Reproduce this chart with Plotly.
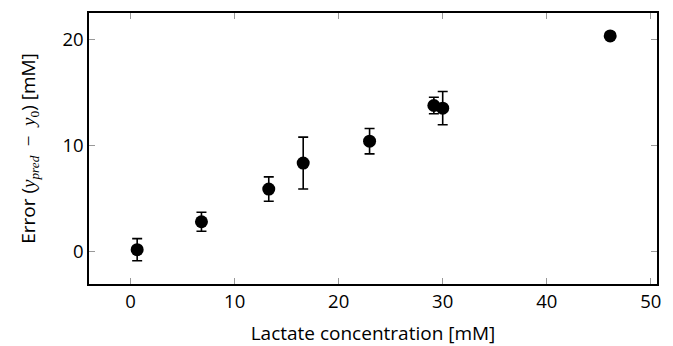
import plotly.graph_objects as go

lactate = [0.63, 6.81, 13.28, 16.59, 22.97, 29.15, 30.0, 46.1]
error = [0.19, 2.83, 5.92, 8.37, 10.44, 13.81, 13.56, 20.38]
error_sd = [1.05, 0.9, 1.15, 2.45, 1.2, 0.78, 1.57, 0.0]
x_ticks = [0, 10, 20, 30, 40, 50]
y_ticks = [0, 10, 20]

fig = go.Figure()
fig.add_trace(go.Scatter(
    x=lactate, y=error, mode="markers",
    marker=dict(color="black", size=13),
    error_y=dict(type="data", array=error_sd, visible=True, color="black",
                 thickness=1.6, width=5),
    showlegend=False,
))

font_family = "Open Sans, sans-serif"
serif = "font-family:'Liberation Serif',serif"
ytitle = ("Error (<span style=\"%s\"><i>y</i><sub><i>pred</i></sub>"
          "  −  <i>y</i><sub>0</sub></span>) [mM]") % serif

fig.update_layout(
    width=673, height=346,
    margin=dict(l=89, r=16, t=13, b=62),
    paper_bgcolor="white", plot_bgcolor="white",
    font=dict(family=font_family, size=18.5, color="black"),
    xaxis=dict(
        range=[-4, 50.6], tickvals=x_ticks, ticks="inside", ticklen=6,
        tickcolor="#999", tickwidth=1, showline=True, linecolor="black",
        linewidth=1.5, mirror="ticks", showgrid=False, zeroline=False,
        automargin=False,
        title=dict(text="Lactate concentration [mM]", standoff=16,
                   font=dict(size=19)),
        tickfont=dict(size=18.5),
    ),
    yaxis=dict(
        range=[-3.05, 22.55], tickvals=y_ticks, ticks="inside", ticklen=6,
        tickcolor="#999", tickwidth=1, showline=True, linecolor="black",
        linewidth=1.5, mirror="ticks", showgrid=False, zeroline=False,
        automargin=False,
        title=dict(text=ytitle, standoff=22, font=dict(size=19)),
        tickfont=dict(size=18.5),
    ),
)

fig.write_html("out.html")
